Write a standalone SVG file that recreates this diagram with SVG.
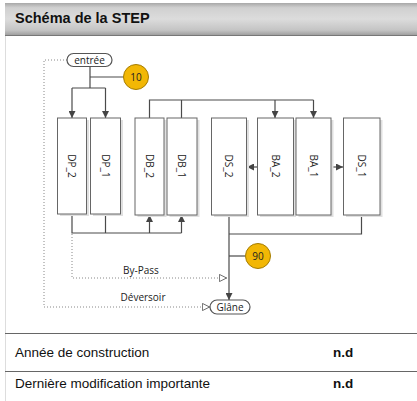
<svg xmlns="http://www.w3.org/2000/svg" width="417" height="401" viewBox="0 0 417 401">
<style>
.box{fill:#fff;stroke:#666;stroke-width:1}
.sh{fill:#e0e0e0}
.lbl{font-family:"Open Sans","DejaVu Sans",sans-serif;font-size:10px;fill:#222;text-anchor:middle;dominant-baseline:central}
.ln{fill:none;stroke:#4a4a4a;stroke-width:1.2}
.dot{fill:none;stroke:#888;stroke-width:1;stroke-dasharray:1 2}
.pill{fill:#fff;stroke:#555;stroke-width:1.2}
.circ{fill:#f2b705;stroke:#a57c00;stroke-width:1}
.tbl{font-family:"Liberation Sans",Arial,sans-serif;font-size:13.5px;fill:#111}
</style>
<defs>
<linearGradient id="hg" x1="0" y1="0" x2="0" y2="1">
<stop offset="0" stop-color="#a8a8a8"/>
<stop offset="0.15" stop-color="#d0d0d0"/>
<stop offset="0.5" stop-color="#dcdcdc"/>
<stop offset="0.85" stop-color="#c4c4c4"/>
<stop offset="1" stop-color="#a0a0a0"/>
</linearGradient>
<marker id="a" viewBox="0 0 10 10" refX="10" refY="5" markerWidth="7" markerHeight="7" markerUnits="userSpaceOnUse" orient="auto">
<path d="M0,0 L10,5 L0,10 Z" fill="#444"/>
</marker>
<marker id="o" viewBox="0 0 10 10" refX="10" refY="5" markerWidth="8" markerHeight="8" markerUnits="userSpaceOnUse" orient="auto">
<path d="M0.5,0.5 L9.5,5 L0.5,9.5 Z" fill="#fff" stroke="#666" stroke-width="1.2"/>
</marker>
</defs>
<rect x="0" y="0" width="417" height="401" fill="#fff"/>
<rect x="5" y="3" width="412" height="32" fill="url(#hg)"/>
<line x1="5" y1="35.5" x2="417" y2="35.5" stroke="#777" stroke-width="1"/>
<line x1="5.5" y1="36" x2="5.5" y2="401" stroke="#ddd" stroke-width="1"/>
<text x="15" y="23" font-family="Liberation Sans,Arial,sans-serif" font-size="14.5" font-weight="bold" fill="#111">Schéma de la STEP</text>

<g id="connectors">
<path class="ln" d="M90,67 V88"/>
<path class="ln" d="M90,77 H123.5"/>
<path class="ln" d="M72,88 H105.5"/>
<path class="ln" d="M72,88 V118" marker-end="url(#a)"/>
<path class="ln" d="M105.5,88 V118" marker-end="url(#a)"/>
<path class="ln" d="M149.5,118 V100 H313.5"/>
<path class="ln" d="M181.5,100 V118"/>
<path class="ln" d="M275,100 V118" marker-end="url(#a)"/>
<path class="ln" d="M313.5,100 V118" marker-end="url(#a)"/>
<path class="ln" d="M257,167 H247" marker-end="url(#a)"/>
<path class="ln" d="M331,167 H343" marker-end="url(#a)"/>
<path class="ln" d="M72,214 V233 H181.5"/>
<path class="ln" d="M105.5,214 V233"/>
<path class="ln" d="M149.5,233 V215" marker-end="url(#a)"/>
<path class="ln" d="M181.5,233 V215" marker-end="url(#a)"/>
<path class="ln" d="M229,215 V300" marker-end="url(#a)"/>
<path class="ln" d="M361.5,215 V234 H229"/>
<path class="ln" d="M229,256 H245.5"/>
<path class="dot" d="M72,234 V278 H227" marker-end="url(#o)"/>
<path class="dot" d="M67,60 H44 V307 H210" marker-end="url(#o)"/>
<text class="lbl" x="141" y="270">By-Pass</text>
<text class="lbl" x="143" y="297">Déversoir</text>
</g>

<g id="entree"><rect class="pill" x="67" y="53.5" width="45" height="13" rx="6.5"/><text class="lbl" x="89.5" y="59.5">entrée</text></g>
<g id="c10"><circle class="circ" cx="136" cy="77" r="12.5"/><text class="lbl" x="136" y="77">10</text></g>
<g id="DP_2"><rect class="sh" x="60" y="120" width="29" height="96"/><rect class="box" x="57.5" y="118" width="29" height="96"/><text class="lbl" transform="translate(72,166) rotate(90)">DP_2</text></g>
<g id="DP_1"><rect class="sh" x="93" y="120" width="30" height="96"/><rect class="box" x="90.5" y="118" width="30" height="96"/><text class="lbl" transform="translate(105.5,166) rotate(90)">DP_1</text></g>
<g id="DB_2"><rect class="sh" x="137.5" y="120" width="29" height="97"/><rect class="box" x="135" y="118" width="29" height="97"/><text class="lbl" transform="translate(149.5,166) rotate(90)">DB_2</text></g>
<g id="DB_1"><rect class="sh" x="169.5" y="120" width="30" height="97"/><rect class="box" x="167" y="118" width="30" height="97"/><text class="lbl" transform="translate(182,166) rotate(90)">DB_1</text></g>
<g id="DS_2"><rect class="sh" x="214" y="120" width="35" height="97"/><rect class="box" x="211.5" y="118" width="35" height="97"/><text class="lbl" transform="translate(229,166) rotate(90)">DS_2</text></g>
<g id="BA_2"><rect class="sh" x="260" y="120" width="36" height="97"/><rect class="box" x="257.5" y="118" width="36" height="97"/><text class="lbl" transform="translate(275.5,166) rotate(90)">BA_2</text></g>
<g id="BA_1"><rect class="sh" x="298.5" y="120" width="35" height="97"/><rect class="box" x="296" y="118" width="35" height="97"/><text class="lbl" transform="translate(313.5,166) rotate(90)">BA_1</text></g>
<g id="DS_1"><rect class="sh" x="346" y="120" width="36.5" height="97"/><rect class="box" x="343.5" y="118" width="36.5" height="97"/><text class="lbl" transform="translate(361.5,166) rotate(90)">DS_1</text></g>
<g id="c90"><circle class="circ" cx="258" cy="256" r="12.5"/><text class="lbl" x="258" y="256">90</text></g>
<g id="glane"><rect class="pill" x="210" y="300" width="40" height="14" rx="7"/><text class="lbl" x="230" y="307">Glâne</text></g>

<line x1="5" y1="333.5" x2="417" y2="333.5" stroke="#666" stroke-width="1"/>
<line x1="5" y1="371.5" x2="417" y2="371.5" stroke="#666" stroke-width="1"/>
<text class="tbl" x="15" y="356.5">Année de construction</text>
<text class="tbl" x="333" y="356.5" font-weight="bold">n.d</text>
<text class="tbl" x="15" y="387.5">Dernière modification importante</text>
<text class="tbl" x="333" y="387.5" font-weight="bold">n.d</text>
</svg>
